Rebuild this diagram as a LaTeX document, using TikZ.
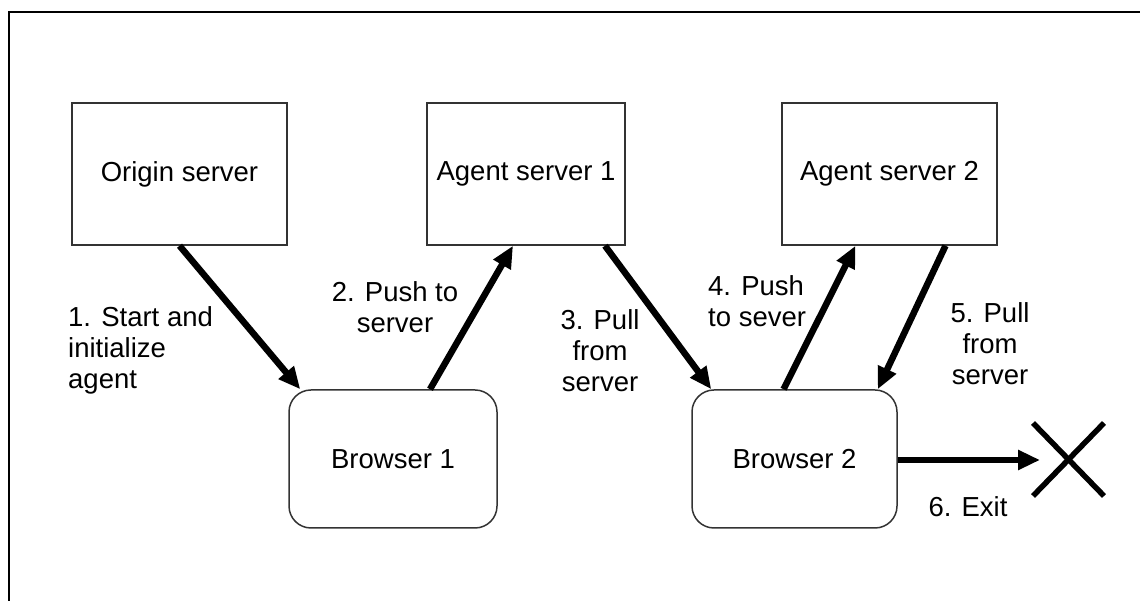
\documentclass[tikz,border=0pt]{standalone}
\usepackage{fontspec}
\setmainfont{Liberation Sans}
\usetikzlibrary{arrows.meta, calc}

\begin{document}
\begin{tikzpicture}[x=1pt, y=1pt,
      server/.style={draw=black!80, line width=1.5pt, rectangle,
                     minimum width=215pt, minimum height=142pt,
                     font=\fontsize{27.5}{31}\selectfont},
      browser/.style={server, rounded corners=22pt,
                      minimum width=208pt, minimum height=138pt},
      flow/.style={-{Triangle[length=22pt, width=19pt]}, line width=6.5pt},
      steplabel/.style={font=\fontsize{27.5}{31}\selectfont, inner sep=0pt}
    ]
    \useasboundingbox (0,0) rectangle (1140,601);
    \draw[line width=1.8pt] (9,0) -- (9,589) -- (1140,589);

    \node[server] (origin) at (179.5, 427) {Origin server};
    \node[server, minimum width=198pt] (agent1) at (526, 427) {Agent server 1};
    \node[server] (agent2) at (889.5, 427) {Agent server 2};
    \node[browser] (b1) at (393, 142) {Browser 1};
    \node[browser, minimum width=205pt] (b2) at (794.5, 142) {Browser 2};
    \coordinate (exitpt) at (1040, 141);

    \draw[flow] (origin.south) -- ($(b1.north west)+(12,0)$);
    \draw[flow] ($(b1.north)+(37,0)$) -- ($(agent1.south)+(-13,0)$);
    \draw[flow] ($(agent1.south)+(79,0)$) -- ($(b2.north west)+(20,0)$);
    \draw[flow] ($(b2.north)+(-11,0)$) -- ($(agent2.south)+(-34,0)$);
    \draw[flow] ($(agent2.south)+(56,0)$) -- ($(b2.north east)+(-20,0)$);
    \draw[flow] (b2.east |- exitpt) -- (exitpt);

    % exit mark
    \draw[line width=5.5pt] (1033,178) -- (1104,105);
    \draw[line width=5.5pt] (1033,105) -- (1104,178);

    \node[steplabel, align=left, anchor=west] (l1) at (68, 251) {1. Start and\\initialize\\agent};
    \node[steplabel, align=center] (l2) at (395, 294) {2. Push to\\server};
    \node[steplabel, align=center] (l3) at (600, 250) {3. Pull\\from\\server};
    \node[steplabel, align=left, anchor=west] (l4) at (708, 300) {4. Push\\to sever};
    \node[steplabel, align=center] (l5) at (990, 257) {5. Pull\\from\\server};
    \node[steplabel] (l6) at (968, 94) {6. Exit};
  \end{tikzpicture}
\end{document}
